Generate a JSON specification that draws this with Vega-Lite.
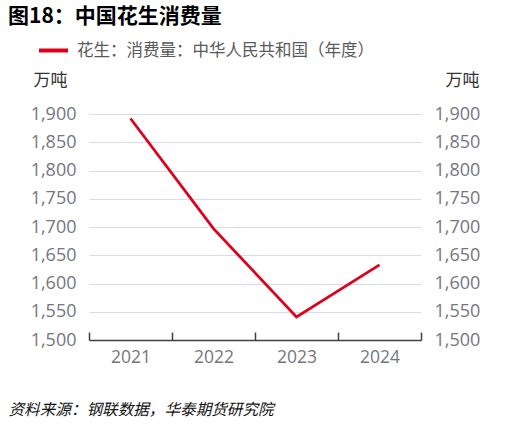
{
  "$schema": "https://vega.github.io/schema/vega-lite/v6.json",
  "width": 332,
  "height": 226,
  "autosize": {"type": "none"},
  "padding": {"left": 89, "top": 114, "right": 98, "bottom": 86},
  "background": "white",
  "config": {
    "view": {"stroke": null},
    "font": "Noto Sans CJK SC"
  },
  "title": {
    "text": "图18：中国花生消费量",
    "anchor": "start",
    "frame": "group",
    "dx": -81,
    "fontSize": 21,
    "fontWeight": "bold",
    "color": "#000000",
    "font": "Noto Sans CJK SC",
    "offset": 7
  },
  "data": {
    "values": [
      {"year": "2021", "value": 1892, "series": "花生：消费量：中华人民共和国（年度）"},
      {"year": "2022", "value": 1697, "series": "花生：消费量：中华人民共和国（年度）"},
      {"year": "2023", "value": 1541, "series": "花生：消费量：中华人民共和国（年度）"},
      {"year": "2024", "value": 1633, "series": "花生：消费量：中华人民共和国（年度）"}
    ]
  },
  "encoding": {
    "x": {
      "field": "year",
      "type": "ordinal",
      "bandPosition": 0.5,
      "scale": {"type": "band", "paddingInner": 0, "paddingOuter": 0},
      "axis": {
        "title": "资料来源：钢联数据，华泰期货研究院",
        "titleFont": "Noto Sans CJK SC",
        "titleFontSize": 15.6,
        "titleFontStyle": "italic",
        "titleFontWeight": "normal",
        "titleColor": "#111111",
        "titleAngle": 0,
        "titleAlign": "left",
        "titleBaseline": "middle",
        "titleX": -81,
        "titleY": 69,
        "labelAngle": 0,
        "labelFont": "Open Sans",
        "labelFontSize": 17.5,
        "labelColor": "#767680",
        "labelPadding": 16,
        "tickBand": "extent",
        "tickSize": -8,
        "tickColor": "#404040",
        "tickWidth": 1.5,
        "domainColor": "#404040",
        "domainWidth": 1.5,
        "grid": false
      }
    }
  },
  "layer": [
    {
      "mark": {"type": "line", "strokeWidth": 2.8},
      "encoding": {
        "y": {
          "field": "value",
          "type": "quantitative",
          "scale": {"domain": [1500, 1900], "nice": false, "zero": false},
          "axis": {
            "orient": "left",
            "values": [1500, 1550, 1600, 1650, 1700, 1750, 1800, 1850, 1900],
            "format": ",.0f",
            "title": "万吨",
            "titleFont": "Noto Sans CJK SC",
            "titleFontSize": 17,
            "titleFontWeight": "normal",
            "titleColor": "#333333",
            "titleAngle": 0,
            "titleAlign": "right",
            "titleBaseline": "middle",
            "titleX": -22,
            "titleY": -34,
            "labelFont": "Open Sans",
            "labelFontSize": 18,
            "labelColor": "#767680",
            "labelPadding": 13,
            "ticks": false,
            "domain": false,
            "grid": true,
            "gridColor": "#d9dbe8",
            "gridWidth": 1
          }
        },
        "color": {
          "field": "series",
          "type": "nominal",
          "scale": {"range": ["#e0001b"]},
          "legend": {
            "title": null,
            "orient": "none",
            "legendX": -52,
            "legendY": -80,
            "symbolType": "stroke",
            "symbolSize": 841,
            "symbolStrokeWidth": 4,
            "labelFont": "Noto Sans CJK SC",
            "labelFontSize": 16.5,
            "labelColor": "#595959",
            "labelOffset": 7,
            "labelLimit": 500
          }
        }
      }
    },
    {
      "mark": {"type": "line", "strokeOpacity": 0},
      "encoding": {
        "y": {
          "field": "value",
          "type": "quantitative",
          "scale": {"domain": [1500, 1900], "nice": false, "zero": false},
          "axis": {
            "orient": "right",
            "values": [1500, 1550, 1600, 1650, 1700, 1750, 1800, 1850, 1900],
            "format": ",.0f",
            "title": "万吨",
            "titleFont": "Noto Sans CJK SC",
            "titleFontSize": 17,
            "titleFontWeight": "normal",
            "titleColor": "#333333",
            "titleAngle": 0,
            "titleAlign": "right",
            "titleBaseline": "middle",
            "titleX": 58,
            "titleY": -34,
            "labelFont": "Open Sans",
            "labelFontSize": 18,
            "labelColor": "#767680",
            "labelPadding": 13,
            "ticks": false,
            "domain": false,
            "grid": false
          }
        }
      }
    }
  ],
  "resolve": {"scale": {"y": "independent"}, "axis": {"y": "independent"}}
}
